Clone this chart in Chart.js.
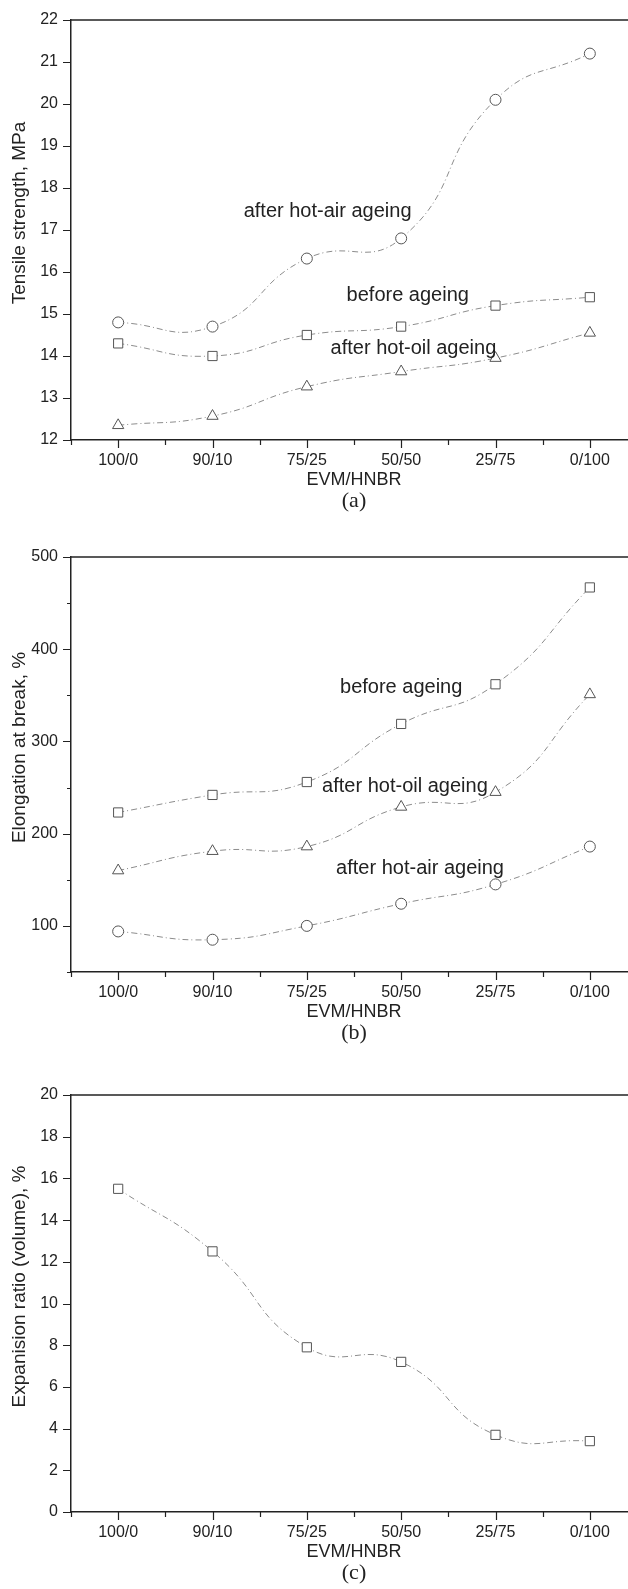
<!DOCTYPE html>
<html>
<head>
<meta charset="utf-8">
<script src="https://cdn.jsdelivr.net/npm/chart.js@4.4.1/dist/chart.umd.min.js"></script>
<style>
html, body { margin: 0; padding: 0; background: #fff; }
#page { position: relative; width: 628px; height: 1589px; overflow: hidden; }
.panel { position: absolute; left: 0; width: 660px; }
</style>
</head>
<body>
<div id="page">
    <div class="panel" style="top:0px"><canvas id="chartA" width="660" height="537"></canvas></div>
    <div class="panel" style="top:537px"><canvas id="chartB" width="660" height="540"></canvas></div>
    <div class="panel" style="top:1077px"><canvas id="chartC" width="660" height="512"></canvas></div>
</div>
<script>
// blend ratios on the x axis
var blends = ["100/0", "90/10", "75/25", "50/50", "25/75", "0/100"];

// (a) tensile strength, MPa
var tensileBefore = [14.3, 14.0, 14.5, 14.7, 15.2, 15.4];
var tensileHotAir = [14.8, 14.7, 16.32, 16.8, 20.1, 21.2];
var tensileHotOil = [12.35, 12.57, 13.27, 13.63, 13.95, 14.55];

// (b) elongation at break, %
var elongBefore = [223, 242, 256, 319, 362, 467];
var elongHotOil = [160, 181, 186, 229, 245, 351];
var elongHotAir = [94, 85, 100, 124, 145, 186];

// (c) expansion ratio (volume), %
var expansion = [15.5, 12.5, 7.9, 7.2, 3.7, 3.4];

var sansFont = "'Liberation Sans', Arial, sans-serif";
var serifFont = "'Liberation Serif', 'Times New Roman', serif";

function toPoints(values) {
    var pts = [];
    for (var i = 0; i < values.length; i++) {
        pts.push({ x: i, y: values[i] });
    }
    return pts;
}

function series(values, shape, size) {
    return {
        data: toPoints(values),
        borderColor: "#8c8c8c",
        borderWidth: 1,
        borderDash: [6, 3, 1, 3],
        tension: 0.5,
        pointStyle: shape,
        pointRadius: size,
        pointBorderColor: "#555",
        pointBackgroundColor: "#fff",
        pointBorderWidth: 1,
        fill: false
    };
}

// frame line, major/minor ticks, y title, notes and the (a)/(b)/(c) caption
var extras = {
    id: "extras",
    afterDraw: function (chart) {
        var ctx = chart.ctx;
        var area = chart.chartArea;
        var opts = chart.options.plugins.extras;
        var xs = chart.scales.x;
        var ys = chart.scales.y;
        ctx.save();
        ctx.strokeStyle = "#222";
        ctx.lineWidth = 1.5;
        ctx.beginPath();
        ctx.moveTo(area.left, area.top);
        ctx.lineTo(area.right, area.top);
        ctx.stroke();

        ctx.lineWidth = 1.2;
        ctx.beginPath();
        ys.ticks.forEach(function (t) {
            var py = Math.round(ys.getPixelForValue(t.value)) + 0.5;
            var major = Math.abs(t.value / opts.yMajor - Math.round(t.value / opts.yMajor)) < 1e-6;
            ctx.moveTo(area.left - (major ? 8 : 4), py);
            ctx.lineTo(area.left, py);
        });
        xs.ticks.forEach(function (t) {
            var px = Math.round(xs.getPixelForValue(t.value)) + 0.5;
            var major = Number.isInteger(t.value);
            ctx.moveTo(px, area.bottom);
            ctx.lineTo(px, area.bottom + (major ? 8 : 5));
        });
        ctx.stroke();

        ctx.fillStyle = "#222";
        ctx.textAlign = "center";
        ctx.textBaseline = "middle";
        ctx.save();
        ctx.translate(20, (area.top + area.bottom) / 2 - 17);
        ctx.rotate(-Math.PI / 2);
        ctx.font = "19px " + sansFont;
        ctx.fillText(opts.yTitle, 0, 0);
        ctx.restore();

        ctx.font = "20px " + sansFont;
        opts.notes.forEach(function (n) {
            ctx.fillText(n.text, xs.getPixelForValue(n.x), ys.getPixelForValue(n.y));
        });

        ctx.font = "22px " + serifFont;
        ctx.fillText(opts.caption, (area.left + area.right) / 2, area.bottom + 61);
        ctx.restore();
    }
};

function makeChart(id, datasets, yTitle, yMin, yMax, yStep, yMajor, notes, caption, topPad, areaH, canvasH) {
    var axisH = 51;
    return new Chart(document.getElementById(id), {
        type: "line",
        data: { datasets: datasets },
        plugins: [extras],
        options: {
            responsive: false,
            animation: false,
            layout: { padding: { top: topPad, right: 23, left: 0, bottom: canvasH - topPad - areaH - axisH } },
            plugins: {
                legend: { display: false },
                tooltip: { enabled: false },
                extras: { notes: notes, caption: caption, yTitle: yTitle, yMajor: yMajor }
            },
            scales: {
                x: {
                    type: "linear",
                    min: -0.5,
                    max: 5.5,
                    afterBuildTicks: function (scale) {
                        var t = [];
                        for (var v = -0.5; v <= 5.5; v += 0.5) t.push({ value: v });
                        scale.ticks = t;
                    },
                    afterFit: function (scale) { scale.height = axisH; },
                    grid: { drawOnChartArea: false, tickLength: 8, tickColor: "rgba(0,0,0,0)" },
                    border: { color: "#222", width: 1.5 },
                    ticks: {
                        autoSkip: false,
                        maxRotation: 0,
                        padding: 3,
                        color: "#222",
                        font: { family: sansFont, size: 16 },
                        callback: function (v) {
                            return Number.isInteger(v) ? blends[v] : "";
                        }
                    },
                    title: {
                        display: true,
                        text: "EVM/HNBR",
                        color: "#222",
                        padding: { top: 0, bottom: 0 },
                        font: { family: sansFont, size: 18 }
                    }
                },
                y: {
                    min: yMin,
                    max: yMax,
                    afterBuildTicks: function (scale) {
                        var t = [];
                        for (var v = yMin; v <= yMax + 1e-9; v += yStep) t.push({ value: v });
                        scale.ticks = t;
                    },
                    afterFit: function (scale) { scale.width = 71; },
                    grid: { drawOnChartArea: false, tickLength: 8, tickColor: "rgba(0,0,0,0)" },
                    border: { color: "#222", width: 1.5 },
                    ticks: {
                        padding: 5,
                        color: "#222",
                        font: { family: sansFont, size: 16 },
                        callback: function (v) {
                            return Math.abs(v / yMajor - Math.round(v / yMajor)) < 1e-6 ? v : "";
                        }
                    },
                    title: { display: false }
                }
            }
        }
    });
}

makeChart("chartA", [
    series(tensileHotAir, "circle", 5.5),
    series(tensileBefore, "rect", 6.5),
    series(tensileHotOil, "triangle", 6.5)
], "Tensile strength, MPa", 12, 22, 0.5, 1, [
    { text: "after hot-air ageing", x: 2.22, y: 17.45 },
    { text: "before ageing", x: 3.07, y: 15.44 },
    { text: "after hot-oil ageing", x: 3.13, y: 14.17 }
], "(a)", 20, 420, 537);

makeChart("chartB", [
    series(elongBefore, "rect", 6.5),
    series(elongHotOil, "triangle", 6.5),
    series(elongHotAir, "circle", 5.5)
], "Elongation at break, %", 50, 500, 50, 100, [
    { text: "before ageing", x: 3.0, y: 359 },
    { text: "after hot-oil ageing", x: 3.04, y: 251 },
    { text: "after hot-air ageing", x: 3.2, y: 162 }
], "(b)", 20, 415, 540);

makeChart("chartC", [
    series(expansion, "rect", 6.5)
], "Expanision ratio (volume), %", 0, 20, 1, 2, [], "(c)", 18, 417, 512);
</script>
</body>
</html>
